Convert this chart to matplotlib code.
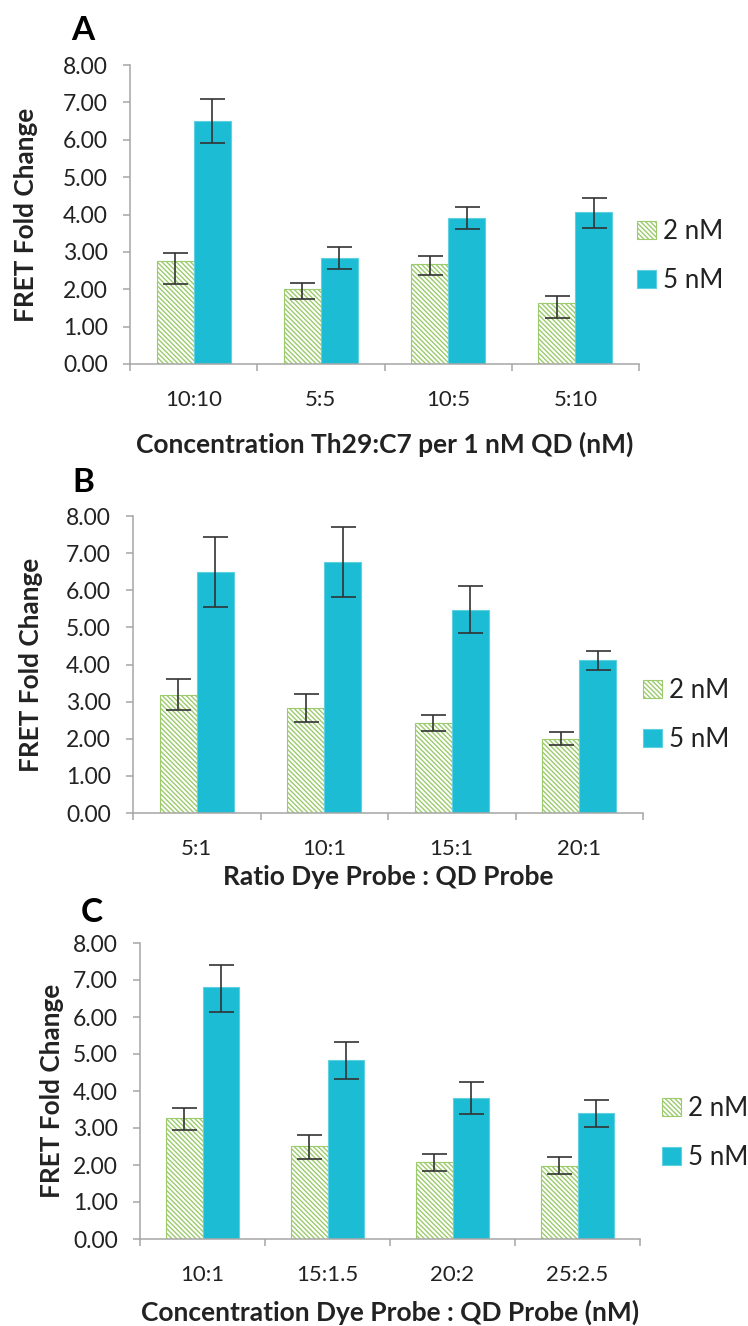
import matplotlib
matplotlib.use("Agg")
import matplotlib.pyplot as plt
import numpy as np

plt.rcParams['font.family'] = ['Lato', 'DejaVu Sans']
plt.rcParams['hatch.linewidth'] = 1.0

# ---- data -------------------------------------------------------------
series_names = ['2 nM', '5 nM']

cats_a = ['10:10', '5:5', '10:5', '5:10']
a_2nm = [2.75, 2.01, 2.67, 1.64]
a_2nm_lo = [2.15, 1.73, 2.38, 1.23]
a_2nm_hi = [2.96, 2.18, 2.89, 1.82]
a_5nm = [6.51, 2.84, 3.90, 4.06]
a_5nm_lo = [5.92, 2.55, 3.62, 3.64]
a_5nm_hi = [7.09, 3.12, 4.19, 4.43]

cats_b = ['5:1', '10:1', '15:1', '20:1']
b_2nm = [3.19, 2.84, 2.43, 1.99]
b_2nm_lo = [2.77, 2.45, 2.22, 1.83]
b_2nm_hi = [3.60, 3.20, 2.63, 2.17]
b_5nm = [6.49, 6.76, 5.48, 4.12]
b_5nm_lo = [5.54, 5.81, 4.86, 3.85]
b_5nm_hi = [7.43, 7.70, 6.12, 4.36]

cats_c = ['10:1', '15:1.5', '20:2', '25:2.5']
c_2nm = [3.26, 2.51, 2.07, 1.97]
c_2nm_lo = [2.94, 2.17, 1.83, 1.75]
c_2nm_hi = [3.55, 2.81, 2.31, 2.22]
c_5nm = [6.80, 4.84, 3.82, 3.41]
c_5nm_lo = [6.14, 4.33, 3.39, 3.04]
c_5nm_hi = [7.41, 5.33, 4.23, 3.77]

y_ticks = [0, 1, 2, 3, 4, 5, 6, 7, 8]
y_label = 'FRET Fold Change'
x_titles = ['Concentration Th29:C7 per 1 nM QD (nM)',
            'Ratio Dye Probe : QD Probe',
            'Concentration Dye Probe : QD Probe (nM)']
panel_letters = ['A', 'B', 'C']

# ---- styling ----------------------------------------------------------
W, H = 748, 1326
DPI = 100
GREEN = '#9CCB6C'
BLUE = '#1BBCD4'
AXIS_GRAY = '#A6A6A6'
TEXT = '#222222'
BAR_W = 0.29

fig = plt.figure(figsize=(W / DPI, H / DPI), dpi=DPI)
fig.patch.set_facecolor('white')


def px_rect(left, right, top, bottom):
    return [left / W, 1 - bottom / H, (right - left) / W, (bottom - top) / H]


panels = [
    dict(rect=px_rect(130, 639, 65, 364), cats=cats_a,
         s2=(a_2nm, a_2nm_lo, a_2nm_hi), s5=(a_5nm, a_5nm_lo, a_5nm_hi),
         letter_xy=(83, 31), ylab_x=26, xlab_y=444, leg_xy=(637, 256)),
    dict(rect=px_rect(133, 643, 516, 813), cats=cats_b,
         s2=(b_2nm, b_2nm_lo, b_2nm_hi), s5=(b_5nm, b_5nm_lo, b_5nm_hi),
         letter_xy=(83, 483), ylab_x=31, xlab_y=877, leg_xy=(643, 715)),
    dict(rect=px_rect(140, 640, 943, 1239), cats=cats_c,
         s2=(c_2nm, c_2nm_lo, c_2nm_hi), s5=(c_5nm, c_5nm_lo, c_5nm_hi),
         letter_xy=(92, 912), ylab_x=52, xlab_y=1312, leg_xy=(662, 1133)),
]

for i, p in enumerate(panels):
    ax = fig.add_axes(p['rect'])
    x = np.arange(len(p['cats']))

    v2, lo2, hi2 = (np.array(s) for s in p['s2'])
    v5, lo5, hi5 = (np.array(s) for s in p['s5'])

    b2 = ax.bar(x - BAR_W / 2, v2, BAR_W, facecolor='white', edgecolor=GREEN,
                hatch='\\' * 7, linewidth=0.8, label=series_names[0], zorder=2)
    b5 = ax.bar(x + BAR_W / 2, v5, BAR_W, facecolor=BLUE, edgecolor='#5FD0E2',
                linewidth=0.8, label=series_names[1], zorder=2)

    ax.errorbar(x - BAR_W / 2, v2, yerr=[v2 - lo2, hi2 - v2], fmt='none',
                ecolor='#333333', elinewidth=1.2, capsize=9, capthick=1.2, zorder=3)
    ax.errorbar(x + BAR_W / 2, v5, yerr=[v5 - lo5, hi5 - v5], fmt='none',
                ecolor='#333333', elinewidth=1.2, capsize=9, capthick=1.2, zorder=3)

    ax.set_xlim(-0.5, len(p['cats']) - 0.5)
    ax.set_ylim(0, 8)
    ax.set_yticks(y_ticks)
    ax.set_yticklabels([f'{t:.2f}' for t in y_ticks])

    ax.set_xticks(x)
    ax.set_xticklabels(p['cats'])
    ax.set_xticks(np.arange(len(p['cats']) + 1) - 0.5, minor=True)
    ax.tick_params(axis='x', which='major', length=0, pad=19, labelsize=16,
                   labelcolor=TEXT)
    ax.tick_params(axis='x', which='minor', length=5, width=1.1,
                   color=AXIS_GRAY, direction='out')
    ax.tick_params(axis='y', which='major', length=5, width=1.1,
                   color=AXIS_GRAY, direction='out', pad=11, labelsize=16.5,
                   labelcolor=TEXT)

    for side in ('top', 'right'):
        ax.spines[side].set_visible(False)
    for side in ('left', 'bottom'):
        ax.spines[side].set_color(AXIS_GRAY)
        ax.spines[side].set_linewidth(1.1)

    ax.set_ylabel(y_label, fontsize=18.8, fontweight='bold', color=TEXT, va='center')
    yc = p['rect'][1] + p['rect'][3] / 2
    ax.yaxis.set_label_coords(p['ylab_x'] / W, yc, transform=fig.transFigure)

    ax.set_xlabel(x_titles[i], fontsize=19, fontweight='bold', color=TEXT, va='center')
    xc = p['rect'][0] + p['rect'][2] / 2
    ax.xaxis.set_label_coords(xc, 1 - p['xlab_y'] / H, transform=fig.transFigure)

    fig.text(p['letter_xy'][0] / W, 1 - p['letter_xy'][1] / H, panel_letters[i],
             fontsize=24, fontweight='bold', ha='center', va='center', color='black')

    ax.legend(handles=[b2, b5], loc='center left',
              bbox_to_anchor=(p['leg_xy'][0] / W, 1 - p['leg_xy'][1] / H),
              bbox_transform=fig.transFigure, frameon=False, fontsize=18.6,
              handlelength=0.72, handleheight=0.7, handletextpad=0.3,
              labelspacing=0.95, borderpad=0, borderaxespad=0,
              labelcolor=TEXT)

fig.savefig('out.png', dpi=DPI, facecolor='white')
